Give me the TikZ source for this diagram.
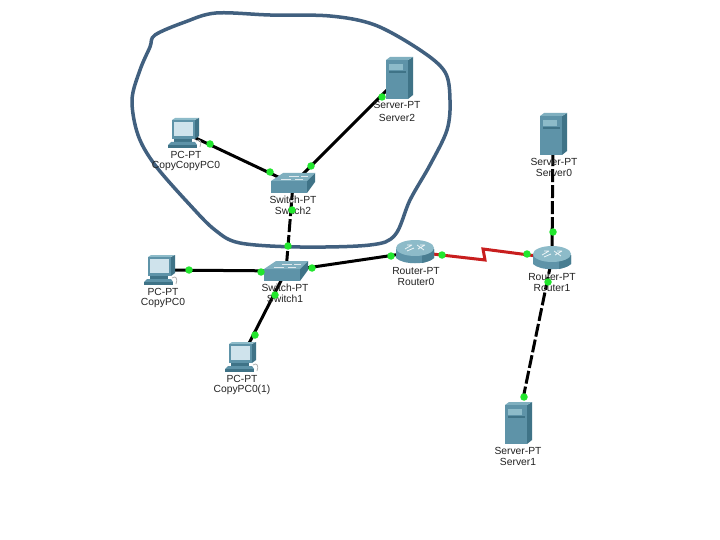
\documentclass[tikz,border=0pt]{standalone}
\usepackage{fontspec}
\setmainfont{Liberation Sans}
\definecolor{blob}{HTML}{41607F}
\definecolor{devA}{HTML}{5E93A8}
\definecolor{devB}{HTML}{3F7387}
\definecolor{devC}{HTML}{8DBBC9}
\definecolor{scrn}{HTML}{CFE3EC}
\definecolor{lnk}{HTML}{C81E1E}
\definecolor{dotc}{HTML}{22E62E}
\definecolor{lab}{HTML}{222222}
\tikzset{
  devnode/.style={inner sep=0pt,minimum size=6pt},
  lbl/.style={font=\fontsize{10.3}{11}\selectfont,text=lab,inner sep=0pt,anchor=center},
  wire/.style={line width=3pt,black},
  dashwire/.style={line width=3pt,black,dash pattern=on 13pt off 3pt},
  serial/.style={line width=3pt,lnk},
  dotn/.style={circle,fill=dotc,inner sep=0pt,minimum size=7.5pt},
  pcpic/.pic={
    \fill[devC] (-13,-13) -- (-10,-15) -- (14,-15) -- (9,-13) -- cycle;
    \fill[devA] (-13,-13) rectangle (10,6);
    \fill[devB] (10,-13) -- (14,-15) -- (14,3) -- (10,6) -- cycle;
    \fill[scrn] (-11,-11) rectangle (8,3);
    \fill[devB] (-11,6) rectangle (7,9);
    \fill[devA] (-14,9) -- (10,9) -- (12,12) -- (-17,12) -- cycle;
    \fill[devB] (-17,12) rectangle (12,15);
    \draw[gray!60,line width=.8pt] (11,8) .. controls (15,5) and (17,9) .. (15,14);
  },
  swpic/.pic={
    \fill[devB] (14,-4) -- (22,-11) -- (22,-2) -- (14,9) -- cycle;
    \fill[devA] (-22,-3) rectangle (14,9);
    \fill[devC!70!devA] (-22,-3) -- (-10,-11) -- (22,-11) -- (14,-3) -- cycle;
    \draw[white!80!devA,line width=.7pt] (-12,-5) -- (-2,-5) (-4,-8) -- (6,-8) (2,-5) -- (10,-5) (8,-8) -- (15,-8);
  },
  rtpic/.pic={
    \fill[devA] (-19,-3) -- (-19,6) .. controls (-12,13) and (12,13) .. (19,6) -- (19,-3) -- cycle;
    \fill[devB!70!devA] (7,-3) -- (19,-3) -- (19,6) .. controls (16,9) and (11,10) .. (7,11) -- cycle;
    \fill[devC] (0,-4) ellipse[x radius=19,y radius=8];
    \draw[white!85!devC,line width=.8pt] (-10,-3) -- (-3,-7) (-8,-7) -- (-3,-7) (3,-3) -- (10,-7) (5,-7) -- (10,-7) (-8,-1) -- (-1,-4) (2,-7) -- (9,-2);
  },
  srvpic/.pic={
    \fill[devB] (9,-18) -- (14,-21) -- (14,17) -- (9,21) -- cycle;
    \fill[devC!70!devA] (-13,-18) -- (-9,-21) -- (14,-21) -- (9,-18) -- cycle;
    \fill[devA] (-13,-18) rectangle (9,21);
    \fill[devC] (-10,-14) rectangle (4,-8);
    \fill[devB] (-10,-7) rectangle (7,-5);
  }
}
\begin{document}
\begin{tikzpicture}[x=1pt,y=-1pt]
\useasboundingbox (0,0) rectangle (720,540);
\fill[white] (0,0) rectangle (720,540);
% device anchors
\node[devnode] (pcc) at (185,133) {};
\node[devnode] (sw2) at (293,184) {};
\node[devnode] (srv2) at (399,78) {};
\node[devnode] (sw1) at (286,271) {};
\node[devnode] (pc0) at (161,270) {};
\node[devnode] (pc1) at (242,357) {};
\node[devnode] (r0) at (415,252) {};
\node[devnode] (r1) at (552,258) {};
\node[devnode] (srv0) at (553,134) {};
\node[devnode] (srv1) at (518,423) {};
\coordinate (zA) at (485,260);
\coordinate (zB) at (483,249);
% connectors
\draw[wire] (pcc) -- (sw2);
\draw[wire] (srv2) -- (sw2);
\draw[dashwire] (sw2) -- (sw1);
\draw[wire] (pc0) -- (sw1);
\draw[wire] (sw1) -- (pc1);
\draw[wire] (sw1) -- (r0);
\draw[dashwire] (srv0) -- (r1);
\draw[dashwire] (r1) -- (srv1);
\draw[serial] (r0) -- (zA) -- (zB) -- (r1);
% outline
\draw[blob,line width=3.5pt,line join=round] plot[smooth cycle,tension=0.55] coordinates {
 (150,47) (155,35) (185,22) (216,13) (270,15) (330,16) (375,25) (420,50) (445,72) (450,100)
 (447,130) (430,165) (410,200) (395,235) (370,245) (300,247) (240,243) (215,230)
 (190,205) (155,165) (138,135) (132,100) (140,70)};
% devices
\pic at (185,133) {pcpic};
\pic at (161,270) {pcpic};
\pic at (242,357) {pcpic};
\pic at (293,184) {swpic};
\pic at (286,272) {swpic};
\pic at (415,252) {rtpic};
\pic at (552,258) {rtpic};
\pic at (399,78) {srvpic};
\pic at (553,134) {srvpic};
\pic at (518,423) {srvpic};
% labels
\node[lbl] (t1) at (186,155) {PC-PT};
\node[lbl] (t2) at (186,166) {CopyCopyPC0};
\node[lbl] (t3) at (293,200) {Switch-PT};
\node[lbl] (t4) at (293,211) {Switch2};
\node[lbl] (t5) at (397,105) {Server-PT};
\node[lbl] (t6) at (397,118) {Server2};
\node[lbl] (t7) at (163,292) {PC-PT};
\node[lbl] (t8) at (163,303) {CopyPC0};
\node[lbl] (t9) at (285,288) {Switch-PT};
\node[lbl] (t10) at (285,299) {Switch1};
\node[lbl] (t11) at (242,379) {PC-PT};
\node[lbl] (t12) at (242,390) {CopyPC0(1)};
\node[lbl] (t13) at (416,271) {Router-PT};
\node[lbl] (t14) at (416,282) {Router0};
\node[lbl] (t15) at (552,277) {Router-PT};
\node[lbl] (t16) at (552,288) {Router1};
\node[lbl] (t17) at (554,162) {Server-PT};
\node[lbl] (t18) at (554,173) {Server0};
\node[lbl] (t19) at (518,451) {Server-PT};
\node[lbl] (t20) at (518,462) {Server1};
% link lights
\node[dotn] (d1) at (210,144) {};
\node[dotn] (d2) at (270,172) {};
\node[dotn] (d3) at (311,166) {};
\node[dotn] (d4) at (382,97) {};
\node[dotn] (d5) at (288,246) {};
\node[dotn] (d6) at (292,210) {};
\node[dotn] (d7) at (189,270) {};
\node[dotn] (d8) at (261,272) {};
\node[dotn] (d9) at (312,268) {};
\node[dotn] (d10) at (391,256) {};
\node[dotn] (d11) at (442,255) {};
\node[dotn] (d12) at (527,254) {};
\node[dotn] (d13) at (553,232) {};
\node[dotn] (d14) at (548,282) {};
\node[dotn] (d15) at (524,397) {};
\node[dotn] (d16) at (255,335) {};
\node[dotn] (d17) at (275,295) {};
\end{tikzpicture}
\end{document}
